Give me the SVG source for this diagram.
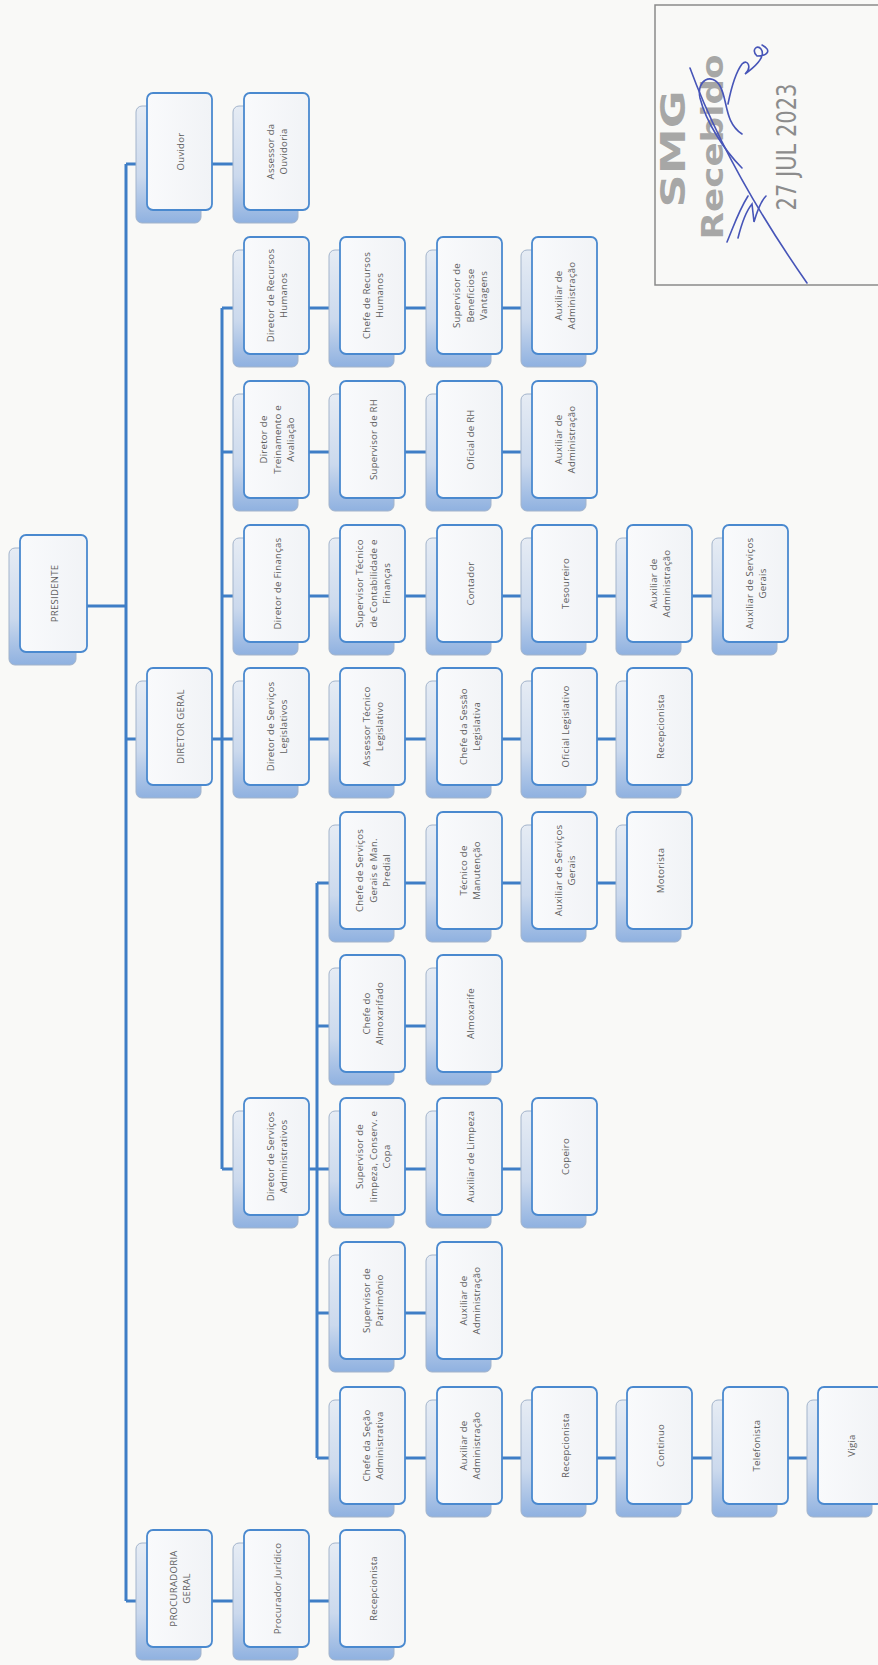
<svg xmlns="http://www.w3.org/2000/svg" width="878" height="1665" viewBox="0 0 878 1665">
<defs>
<linearGradient id="gs" x1="0" y1="0" x2="0" y2="1">
<stop offset="0" stop-color="#e6ecf4"/>
<stop offset="0.6" stop-color="#cbd9ed"/>
<stop offset="1" stop-color="#8fb1e0"/>
</linearGradient>
<linearGradient id="gf" x1="0" y1="0" x2="1" y2="0">
<stop offset="0" stop-color="#f9fafc"/>
<stop offset="1" stop-color="#f1f3f6"/>
</linearGradient>
<style>
.sh{fill:url(#gs);stroke:#a3b4cb;stroke-width:1}
.fr{fill:url(#gf);stroke:#4a89cf;stroke-width:1.8}
.t{font-family:"Open Sans","Liberation Sans",sans-serif;font-size:9.6px;fill:#5e5e5e;text-anchor:middle;dominant-baseline:central;letter-spacing:0.25px}
.c{stroke:#3f7ec6;stroke-width:3;fill:none}
.st{fill:#8c8c8c;font-family:"DejaVu Sans Condensed","Liberation Sans",sans-serif;text-anchor:middle;dominant-baseline:central}
.sig{fill:none;stroke:#4755b8;stroke-width:1.6;stroke-linecap:round}
</style>
</defs>
<rect width="878" height="1665" fill="#f9f9f7"/>

<g id="connectors">
<path class="c" d="M126 164V1601M87 606H126M126 164H136M126 739H136M126 1601H136"/>
<path class="c" d="M212 164H233"/>
<path class="c" d="M222 308V1169M212 739H233M222 308H233M222 452H233M222 596H233M222 1169H233"/>
<path class="c" d="M317 883V1458M309 1169H329M317 883H329M317 1026H329M317 1313H329M317 1458H329"/>
<path class="c" d="M309 308H329M405 308H426M502 308H521"/>
<path class="c" d="M309 452H329M405 452H426M502 452H521"/>
<path class="c" d="M309 596H329M405 596H426M502 596H521M597 596H616M692 596H712"/>
<path class="c" d="M309 739H329M405 739H426M502 739H521M597 739H616"/>
<path class="c" d="M405 883H426M502 883H521M597 883H616"/>
<path class="c" d="M405 1026H426"/>
<path class="c" d="M405 1169H426M502 1169H521"/>
<path class="c" d="M405 1313H426"/>
<path class="c" d="M405 1458H426M502 1458H521M597 1458H616M692 1458H712M788 1458H807"/>
<path class="c" d="M212 1601H233M309 1601H329"/>
</g>

<g id="presidente"><rect class="sh" x="9" y="548" width="67" height="117" rx="6"/><rect class="fr" x="20" y="535" width="67" height="117" rx="6"/><text class="t" transform="translate(53.5,593.5) rotate(-90)"><tspan x="0" y="0">PRESIDENTE</tspan></text></g>

<g id="ouvidor"><rect class="sh" x="136" y="106" width="65" height="117" rx="6"/><rect class="fr" x="147" y="93" width="65" height="117" rx="6"/><text class="t" transform="translate(179.5,151.5) rotate(-90)"><tspan x="0" y="0">Ouvidor</tspan></text></g>
<g id="assessor-ouvidoria"><rect class="sh" x="233" y="106" width="65" height="117" rx="6"/><rect class="fr" x="244" y="93" width="65" height="117" rx="6"/><text class="t" transform="translate(276.5,151.5) rotate(-90)"><tspan x="0" y="-6.75">Assessor da</tspan><tspan x="0" y="6.75">Ouvidoria</tspan></text></g>

<g id="diretor-geral"><rect class="sh" x="136" y="681" width="65" height="117" rx="6"/><rect class="fr" x="147" y="668" width="65" height="117" rx="6"/><text class="t" transform="translate(179.5,726.5) rotate(-90)"><tspan x="0" y="0">DIRETOR GERAL</tspan></text></g>
<g id="procuradoria"><rect class="sh" x="136" y="1543" width="65" height="117" rx="6"/><rect class="fr" x="147" y="1530" width="65" height="117" rx="6"/><text class="t" transform="translate(179.5,1588.5) rotate(-90)"><tspan x="0" y="-6.75">PROCURADORIA</tspan><tspan x="0" y="6.75">GERAL</tspan></text></g>

<g id="dir-rh"><rect class="sh" x="233" y="250" width="65" height="117" rx="6"/><rect class="fr" x="244" y="237" width="65" height="117" rx="6"/><text class="t" transform="translate(276.5,295.5) rotate(-90)"><tspan x="0" y="-6.75">Diretor de Recursos</tspan><tspan x="0" y="6.75">Humanos</tspan></text></g>
<g id="chefe-rh"><rect class="sh" x="329" y="250" width="65" height="117" rx="6"/><rect class="fr" x="340" y="237" width="65" height="117" rx="6"/><text class="t" transform="translate(372.5,295.5) rotate(-90)"><tspan x="0" y="-6.75">Chefe de Recursos</tspan><tspan x="0" y="6.75">Humanos</tspan></text></g>
<g id="sup-beneficios"><rect class="sh" x="426" y="250" width="65" height="117" rx="6"/><rect class="fr" x="437" y="237" width="65" height="117" rx="6"/><text class="t" transform="translate(469.5,295.5) rotate(-90)"><tspan x="0" y="-13.5">Supervisor de</tspan><tspan x="0" y="0">Beneficiose</tspan><tspan x="0" y="13.5">Vantagens</tspan></text></g>
<g id="aux-adm-rh"><rect class="sh" x="521" y="250" width="65" height="117" rx="6"/><rect class="fr" x="532" y="237" width="65" height="117" rx="6"/><text class="t" transform="translate(564.5,295.5) rotate(-90)"><tspan x="0" y="-6.75">Auxiliar de</tspan><tspan x="0" y="6.75">Administração</tspan></text></g>

<g id="dir-treinamento"><rect class="sh" x="233" y="394" width="65" height="117" rx="6"/><rect class="fr" x="244" y="381" width="65" height="117" rx="6"/><text class="t" transform="translate(276.5,439.5) rotate(-90)"><tspan x="0" y="-13.5">Diretor de</tspan><tspan x="0" y="0">Treinamento e</tspan><tspan x="0" y="13.5">Avaliação</tspan></text></g>
<g id="sup-rh"><rect class="sh" x="329" y="394" width="65" height="117" rx="6"/><rect class="fr" x="340" y="381" width="65" height="117" rx="6"/><text class="t" transform="translate(372.5,439.5) rotate(-90)"><tspan x="0" y="0">Supervisor de RH</tspan></text></g>
<g id="oficial-rh"><rect class="sh" x="426" y="394" width="65" height="117" rx="6"/><rect class="fr" x="437" y="381" width="65" height="117" rx="6"/><text class="t" transform="translate(469.5,439.5) rotate(-90)"><tspan x="0" y="0">Oficial de RH</tspan></text></g>
<g id="aux-adm-trein"><rect class="sh" x="521" y="394" width="65" height="117" rx="6"/><rect class="fr" x="532" y="381" width="65" height="117" rx="6"/><text class="t" transform="translate(564.5,439.5) rotate(-90)"><tspan x="0" y="-6.75">Auxiliar de</tspan><tspan x="0" y="6.75">Administração</tspan></text></g>

<g id="dir-financas"><rect class="sh" x="233" y="538" width="65" height="117" rx="6"/><rect class="fr" x="244" y="525" width="65" height="117" rx="6"/><text class="t" transform="translate(276.5,583.5) rotate(-90)"><tspan x="0" y="0">Diretor de Finanças</tspan></text></g>
<g id="sup-contab"><rect class="sh" x="329" y="538" width="65" height="117" rx="6"/><rect class="fr" x="340" y="525" width="65" height="117" rx="6"/><text class="t" transform="translate(372.5,583.5) rotate(-90)"><tspan x="0" y="-13.5">Supervisor Técnico</tspan><tspan x="0" y="0">de Contabilidade e</tspan><tspan x="0" y="13.5">Finanças</tspan></text></g>
<g id="contador"><rect class="sh" x="426" y="538" width="65" height="117" rx="6"/><rect class="fr" x="437" y="525" width="65" height="117" rx="6"/><text class="t" transform="translate(469.5,583.5) rotate(-90)"><tspan x="0" y="0">Contador</tspan></text></g>
<g id="tesoureiro"><rect class="sh" x="521" y="538" width="65" height="117" rx="6"/><rect class="fr" x="532" y="525" width="65" height="117" rx="6"/><text class="t" transform="translate(564.5,583.5) rotate(-90)"><tspan x="0" y="0">Tesoureiro</tspan></text></g>
<g id="aux-adm-fin"><rect class="sh" x="616" y="538" width="65" height="117" rx="6"/><rect class="fr" x="627" y="525" width="65" height="117" rx="6"/><text class="t" transform="translate(659.5,583.5) rotate(-90)"><tspan x="0" y="-6.75">Auxiliar de</tspan><tspan x="0" y="6.75">Administração</tspan></text></g>
<g id="aux-serv-fin"><rect class="sh" x="712" y="538" width="65" height="117" rx="6"/><rect class="fr" x="723" y="525" width="65" height="117" rx="6"/><text class="t" transform="translate(755.5,583.5) rotate(-90)"><tspan x="0" y="-6.75">Auxiliar de Serviços</tspan><tspan x="0" y="6.75">Gerais</tspan></text></g>

<g id="dir-leg"><rect class="sh" x="233" y="681" width="65" height="117" rx="6"/><rect class="fr" x="244" y="668" width="65" height="117" rx="6"/><text class="t" transform="translate(276.5,726.5) rotate(-90)"><tspan x="0" y="-6.75">Diretor de Serviços</tspan><tspan x="0" y="6.75">Legislativos</tspan></text></g>
<g id="assessor-leg"><rect class="sh" x="329" y="681" width="65" height="117" rx="6"/><rect class="fr" x="340" y="668" width="65" height="117" rx="6"/><text class="t" transform="translate(372.5,726.5) rotate(-90)"><tspan x="0" y="-6.75">Assessor Técnico</tspan><tspan x="0" y="6.75">Legislativo</tspan></text></g>
<g id="chefe-sessao"><rect class="sh" x="426" y="681" width="65" height="117" rx="6"/><rect class="fr" x="437" y="668" width="65" height="117" rx="6"/><text class="t" transform="translate(469.5,726.5) rotate(-90)"><tspan x="0" y="-6.75">Chefe da Sessão</tspan><tspan x="0" y="6.75">Legislativa</tspan></text></g>
<g id="oficial-leg"><rect class="sh" x="521" y="681" width="65" height="117" rx="6"/><rect class="fr" x="532" y="668" width="65" height="117" rx="6"/><text class="t" transform="translate(564.5,726.5) rotate(-90)"><tspan x="0" y="0">Oficial Legislativo</tspan></text></g>
<g id="recep-leg"><rect class="sh" x="616" y="681" width="65" height="117" rx="6"/><rect class="fr" x="627" y="668" width="65" height="117" rx="6"/><text class="t" transform="translate(659.5,726.5) rotate(-90)"><tspan x="0" y="0">Recepcionista</tspan></text></g>

<g id="chefe-serv-gerais"><rect class="sh" x="329" y="825" width="65" height="117" rx="6"/><rect class="fr" x="340" y="812" width="65" height="117" rx="6"/><text class="t" transform="translate(372.5,870.5) rotate(-90)"><tspan x="0" y="-13.5">Chefe de Serviços</tspan><tspan x="0" y="0">Gerais e Man.</tspan><tspan x="0" y="13.5">Predial</tspan></text></g>
<g id="tecnico-manut"><rect class="sh" x="426" y="825" width="65" height="117" rx="6"/><rect class="fr" x="437" y="812" width="65" height="117" rx="6"/><text class="t" transform="translate(469.5,870.5) rotate(-90)"><tspan x="0" y="-6.75">Técnico de</tspan><tspan x="0" y="6.75">Manutenção</tspan></text></g>
<g id="aux-serv-gerais"><rect class="sh" x="521" y="825" width="65" height="117" rx="6"/><rect class="fr" x="532" y="812" width="65" height="117" rx="6"/><text class="t" transform="translate(564.5,870.5) rotate(-90)"><tspan x="0" y="-6.75">Auxiliar de Serviços</tspan><tspan x="0" y="6.75">Gerais</tspan></text></g>
<g id="motorista"><rect class="sh" x="616" y="825" width="65" height="117" rx="6"/><rect class="fr" x="627" y="812" width="65" height="117" rx="6"/><text class="t" transform="translate(659.5,870.5) rotate(-90)"><tspan x="0" y="0">Motorista</tspan></text></g>

<g id="chefe-almox"><rect class="sh" x="329" y="968" width="65" height="117" rx="6"/><rect class="fr" x="340" y="955" width="65" height="117" rx="6"/><text class="t" transform="translate(372.5,1013.5) rotate(-90)"><tspan x="0" y="-6.75">Chefe do</tspan><tspan x="0" y="6.75">Almoxarifado</tspan></text></g>
<g id="almoxarife"><rect class="sh" x="426" y="968" width="65" height="117" rx="6"/><rect class="fr" x="437" y="955" width="65" height="117" rx="6"/><text class="t" transform="translate(469.5,1013.5) rotate(-90)"><tspan x="0" y="0">Almoxarife</tspan></text></g>

<g id="dir-adm"><rect class="sh" x="233" y="1111" width="65" height="117" rx="6"/><rect class="fr" x="244" y="1098" width="65" height="117" rx="6"/><text class="t" transform="translate(276.5,1156.5) rotate(-90)"><tspan x="0" y="-6.75">Diretor de Serviços</tspan><tspan x="0" y="6.75">Administrativos</tspan></text></g>
<g id="sup-limpeza"><rect class="sh" x="329" y="1111" width="65" height="117" rx="6"/><rect class="fr" x="340" y="1098" width="65" height="117" rx="6"/><text class="t" transform="translate(372.5,1156.5) rotate(-90)"><tspan x="0" y="-13.5">Supervisor de</tspan><tspan x="0" y="0">limpeza, Conserv. e</tspan><tspan x="0" y="13.5">Copa</tspan></text></g>
<g id="aux-limpeza"><rect class="sh" x="426" y="1111" width="65" height="117" rx="6"/><rect class="fr" x="437" y="1098" width="65" height="117" rx="6"/><text class="t" transform="translate(469.5,1156.5) rotate(-90)"><tspan x="0" y="0">Auxiliar de Limpeza</tspan></text></g>
<g id="copeiro"><rect class="sh" x="521" y="1111" width="65" height="117" rx="6"/><rect class="fr" x="532" y="1098" width="65" height="117" rx="6"/><text class="t" transform="translate(564.5,1156.5) rotate(-90)"><tspan x="0" y="0">Copeiro</tspan></text></g>

<g id="sup-patrimonio"><rect class="sh" x="329" y="1255" width="65" height="117" rx="6"/><rect class="fr" x="340" y="1242" width="65" height="117" rx="6"/><text class="t" transform="translate(372.5,1300.5) rotate(-90)"><tspan x="0" y="-6.75">Supervisor de</tspan><tspan x="0" y="6.75">Patrimônio</tspan></text></g>
<g id="aux-adm-patr"><rect class="sh" x="426" y="1255" width="65" height="117" rx="6"/><rect class="fr" x="437" y="1242" width="65" height="117" rx="6"/><text class="t" transform="translate(469.5,1300.5) rotate(-90)"><tspan x="0" y="-6.75">Auxiliar de</tspan><tspan x="0" y="6.75">Administração</tspan></text></g>

<g id="chefe-secao"><rect class="sh" x="329" y="1400" width="65" height="117" rx="6"/><rect class="fr" x="340" y="1387" width="65" height="117" rx="6"/><text class="t" transform="translate(372.5,1445.5) rotate(-90)"><tspan x="0" y="-6.75">Chefe da Seção</tspan><tspan x="0" y="6.75">Administrativa</tspan></text></g>
<g id="aux-adm-secao"><rect class="sh" x="426" y="1400" width="65" height="117" rx="6"/><rect class="fr" x="437" y="1387" width="65" height="117" rx="6"/><text class="t" transform="translate(469.5,1445.5) rotate(-90)"><tspan x="0" y="-6.75">Auxiliar de</tspan><tspan x="0" y="6.75">Administração</tspan></text></g>
<g id="recep-secao"><rect class="sh" x="521" y="1400" width="65" height="117" rx="6"/><rect class="fr" x="532" y="1387" width="65" height="117" rx="6"/><text class="t" transform="translate(564.5,1445.5) rotate(-90)"><tspan x="0" y="0">Recepcionista</tspan></text></g>
<g id="continuo"><rect class="sh" x="616" y="1400" width="65" height="117" rx="6"/><rect class="fr" x="627" y="1387" width="65" height="117" rx="6"/><text class="t" transform="translate(659.5,1445.5) rotate(-90)"><tspan x="0" y="0">Continuo</tspan></text></g>
<g id="telefonista"><rect class="sh" x="712" y="1400" width="65" height="117" rx="6"/><rect class="fr" x="723" y="1387" width="65" height="117" rx="6"/><text class="t" transform="translate(755.5,1445.5) rotate(-90)"><tspan x="0" y="0">Telefonista</tspan></text></g>
<g id="vigia"><rect class="sh" x="807" y="1400" width="65" height="117" rx="6"/><rect class="fr" x="818" y="1387" width="65" height="117" rx="6"/><text class="t" transform="translate(850.5,1445.5) rotate(-90)"><tspan x="0" y="0">Vigia</tspan></text></g>

<g id="proc-juridico"><rect class="sh" x="233" y="1543" width="65" height="117" rx="6"/><rect class="fr" x="244" y="1530" width="65" height="117" rx="6"/><text class="t" transform="translate(276.5,1588.5) rotate(-90)"><tspan x="0" y="0">Procurador Jurídico</tspan></text></g>
<g id="recep-proc"><rect class="sh" x="329" y="1543" width="65" height="117" rx="6"/><rect class="fr" x="340" y="1530" width="65" height="117" rx="6"/><text class="t" transform="translate(372.5,1588.5) rotate(-90)"><tspan x="0" y="0">Recepcionista</tspan></text></g>

<g id="stamp">
<path d="M878 5H655V285H878" fill="none" stroke="#8a8a8a" stroke-width="1.5"/>
<text class="st" transform="translate(673,149) rotate(-90)" font-size="34" font-weight="bold" textLength="117" lengthAdjust="spacingAndGlyphs" fill-opacity="0.75">SMG</text>
<text class="st" transform="translate(712,147) rotate(-90)" font-size="30" font-weight="bold" textLength="185" lengthAdjust="spacingAndGlyphs" fill-opacity="0.75">Recebido</text>
<text class="st" transform="translate(787,147) rotate(-90)" font-size="26" textLength="127" lengthAdjust="spacingAndGlyphs">27 JUL 2023</text>
<path class="sig" d="M807 283C770 230 720 150 690 68"/>
<path class="sig" d="M727 242C733 228 738 212 748 196M738 238C742 222 747 210 752 204L754 222C758 208 762 200 766 196"/>
<path class="sig" d="M742 168C724 150 706 122 700 98C696 80 712 72 720 86C728 100 724 122 742 134"/>
<path class="sig" d="M728 104C732 84 736 72 742 64C748 58 752 68 745 74C756 66 766 56 761 49C757 44 751 50 757 56C768 56 772 50 762 45"/>
</g>
</svg>
